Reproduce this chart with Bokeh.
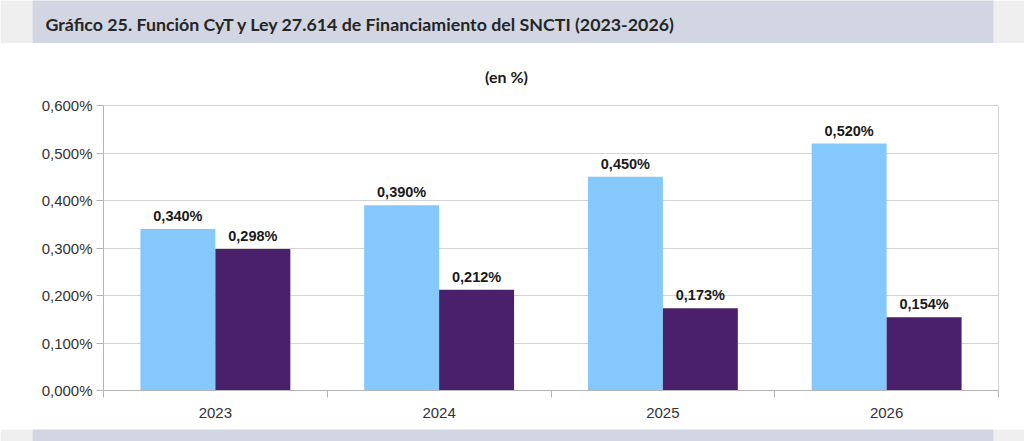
import numpy as np
from bokeh.plotting import figure
from bokeh.layouts import column
from bokeh.models import (ColumnDataSource, FixedTicker, LabelSet, Label,
                          CustomJSTickFormatter)
from bokeh.embed import file_html
from bokeh.resources import INLINE
from bokeh.core.properties import value

# ---- data ----
years = ["2023", "2024", "2025", "2026"]
funcion_cyt = [0.340, 0.390, 0.450, 0.520]
ley_27614 = [0.298, 0.212, 0.173, 0.154]
y_ticks = [0.0, 0.1, 0.2, 0.3, 0.4, 0.5, 0.6]
title_text = "Gráfico 25. Función CyT y Ley 27.614 de Financiamiento del SNCTI (2023-2026)"
subtitle_text = "(en %)"


def fmt(v):
    return f"{v:.3f}%".replace(".", ",")


BLUE = "#85C8FC"
PURPLE = "#4A1F6B"
LIGHT = "#efefef"
BAND = "#d1d6e2"
BAR_W = 0.335
OFF = 0.1675
W = 1024


def blank(height, left, right, bg, border, xr, yr):
    f = figure(width=W, height=height, x_range=xr, y_range=yr,
               output_backend="svg", toolbar_location=None,
               x_axis_location=None, y_axis_location=None,
               min_border_left=left, min_border_right=right,
               min_border_top=0, min_border_bottom=0, frame_align=False)
    f.background_fill_color = bg
    f.border_fill_color = border
    f.outline_line_color = None
    f.grid.grid_line_color = None
    return f


# header band (frame spans 32..993 px)
header = blank(43, 32, 31, BAND, LIGHT, (0, 961), (0, 43))
header.add_layout(Label(x=13, y=20, text=title_text,
                        text_font="Lato", text_font_style="bold",
                        text_font_size="17.8px", text_color="#262626",
                        text_baseline="middle", text_align="left"))

# subtitle strip
sub = blank(52, 0, 0, "white", "white", (0, W), (0, 52))
sub.add_layout(Label(x=506, y=19, text=subtitle_text,
                     text_font="Lato", text_font_style="bold",
                     text_font_size="16px", text_color="#1a1a1a",
                     text_baseline="middle", text_align="center"))

# main chart
pos = np.arange(len(years)) + 0.5
src = ColumnDataSource(dict(
    x=pos,
    x_cyt=pos - OFF,
    x_ley=pos + OFF,
    cyt=funcion_cyt,
    ley=ley_27614,
    cyt_lbl=[fmt(v) for v in funcion_cyt],
    ley_lbl=[fmt(v) for v in ley_27614],
))

p = figure(width=W, height=334, x_range=(0, len(years)), y_range=(0, 0.6),
           output_backend="svg", toolbar_location=None,
           min_border_left=103, min_border_right=26,
           min_border_top=10, min_border_bottom=39, frame_align=False)
p.background_fill_color = "white"
p.border_fill_color = "white"
p.outline_line_color = "#d4d4d4"

p.vbar(x="x_cyt", top="cyt", width=BAR_W, source=src,
       fill_color=BLUE, line_color=None)
p.vbar(x="x_ley", top="ley", width=BAR_W, source=src,
       fill_color=PURPLE, line_color=None)

lbl_kw = dict(text_font=value("Liberation Sans"), text_font_style="bold",
              text_font_size="14.5px", text_color="#1a1a1a",
              text_align="center", text_baseline="bottom", y_offset=5)
p.add_layout(LabelSet(x="x_cyt", y="cyt", text="cyt_lbl", source=src, **lbl_kw))
p.add_layout(LabelSet(x="x_ley", y="ley", text="ley_lbl", source=src, **lbl_kw))

# x axis
p.xaxis.ticker = FixedTicker(ticks=list(pos), minor_ticks=list(range(len(years) + 1)))
p.xaxis.major_label_overrides = {float(x): y for x, y in zip(pos, years)}
p.xaxis.major_tick_line_color = None
p.xaxis.minor_tick_in = 0
p.xaxis.minor_tick_out = 7
p.xaxis.minor_tick_line_color = "#b5b5b5"
p.xaxis.axis_line_color = "#b5b5b5"
p.xaxis.major_label_standoff = 10
p.xgrid.grid_line_color = None

# y axis
p.yaxis.ticker = FixedTicker(ticks=y_ticks)
p.yaxis.formatter = CustomJSTickFormatter(
    code="return tick.toFixed(3).replace('.', ',') + '%';")
p.yaxis.major_tick_in = 0
p.yaxis.major_tick_out = 7
p.yaxis.minor_tick_line_color = None
p.yaxis.major_tick_line_color = "#b5b5b5"
p.yaxis.axis_line_color = "#b5b5b5"
p.yaxis.major_label_standoff = 4
p.ygrid.ticker = FixedTicker(ticks=y_ticks)
p.ygrid.grid_line_color = "#d4d4d4"

for ax in (p.xaxis, p.yaxis):
    ax.major_label_text_font = "Liberation Sans"
    ax.major_label_text_font_size = "15px"
    ax.major_label_text_color = "#333333"

# footer band
footer = blank(12, 32, 31, BAND, LIGHT, (0, 1), (0, 1))

layout = column(header, sub, p, footer, spacing=0)
open("out.html", "w").write(file_html(layout, INLINE))
